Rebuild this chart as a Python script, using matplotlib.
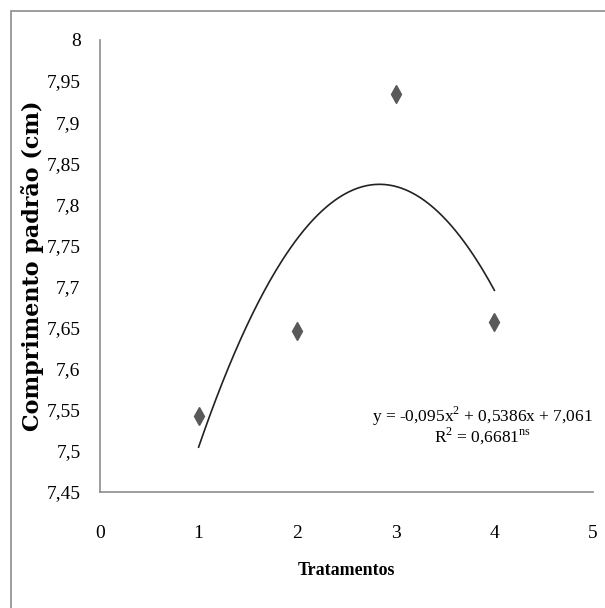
import numpy as np
import matplotlib

matplotlib.use("Agg")
import matplotlib.pyplot as plt
from matplotlib.patches import Rectangle

plt.rcParams["font.family"] = ["Liberation Serif", "DejaVu Serif"]
plt.rcParams["mathtext.fontset"] = "custom"
plt.rcParams["mathtext.rm"] = "Liberation Serif"

# observed means per treatment
tratamentos = [1, 2, 3, 4]
comprimento = [7.542, 7.646, 7.934, 7.657]

# quadratic trend as printed on the chart: y = a x^2 + b x + c
coef = [-0.095, 0.5386, 7.061]
r2 = 0.6681

x_ticks = [0, 1, 2, 3, 4, 5]
y_ticks = [7.45, 7.5, 7.55, 7.6, 7.65, 7.7, 7.75, 7.8, 7.85, 7.9, 7.95, 8.0]


def fmt_comma(v, nd=2):
    s = f"{v:.{nd}f}".rstrip("0").rstrip(".")
    return s.replace(".", ",")


fig = plt.figure(figsize=(6.05, 6.08), dpi=100)
ax = fig.add_axes([100 / 605, 1 - 492 / 608, 493 / 605, 452 / 608])

# gray frame around the chart area
fig.patches.append(Rectangle((11 / 605, -0.05), 1.2, 1 - 11 / 608 + 0.05,
                             transform=fig.transFigure, fill=False,
                             edgecolor="#8c8c8c", linewidth=1.2))

xs = np.linspace(tratamentos[0], tratamentos[-1], 200)
ax.plot(xs, np.polyval(coef, xs), color="#222222", linewidth=1.2)
ax.plot(tratamentos, comprimento, linestyle="none", marker="d",
        markersize=9, color="#595959")

ax.set_xlim(0, 5)
ax.set_ylim(7.45, 8.0)
ax.set_xticks(x_ticks)
ax.set_xticklabels([str(t) for t in x_ticks])
ax.set_yticks(y_ticks)
ax.set_yticklabels([fmt_comma(t) for t in y_ticks])
ax.tick_params(axis="both", length=0, labelsize=14)
ax.tick_params(axis="x", pad=24)
ax.tick_params(axis="y", pad=14)

for side in ["top", "right"]:
    ax.spines[side].set_visible(False)
for side in ["left", "bottom"]:
    ax.spines[side].set_color("#8c8c8c")
    ax.spines[side].set_linewidth(1.2)

ax.set_xlabel("Tratamentos", fontsize=13, fontweight="bold", labelpad=14)
ax.set_ylabel("Comprimento padrão (cm)", fontsize=16, fontweight="bold",
              family="DejaVu Serif", labelpad=2)

eq = (f"y = {fmt_comma(coef[0], 3)}x$^{{2}}$ + {fmt_comma(coef[1], 4)}x"
      f" + {fmt_comma(coef[2], 3)}")
r2_txt = f"R$^{{2}}$ = {fmt_comma(r2, 4)}$^{{\\rm ns}}$"
ax.text(0.775, 0.167, eq, transform=ax.transAxes, ha="center", va="center",
        fontsize=12.5)
ax.text(0.775, 0.122, r2_txt, transform=ax.transAxes, ha="center",
        va="center", fontsize=12.5)

fig.savefig("out.png", dpi=100)
